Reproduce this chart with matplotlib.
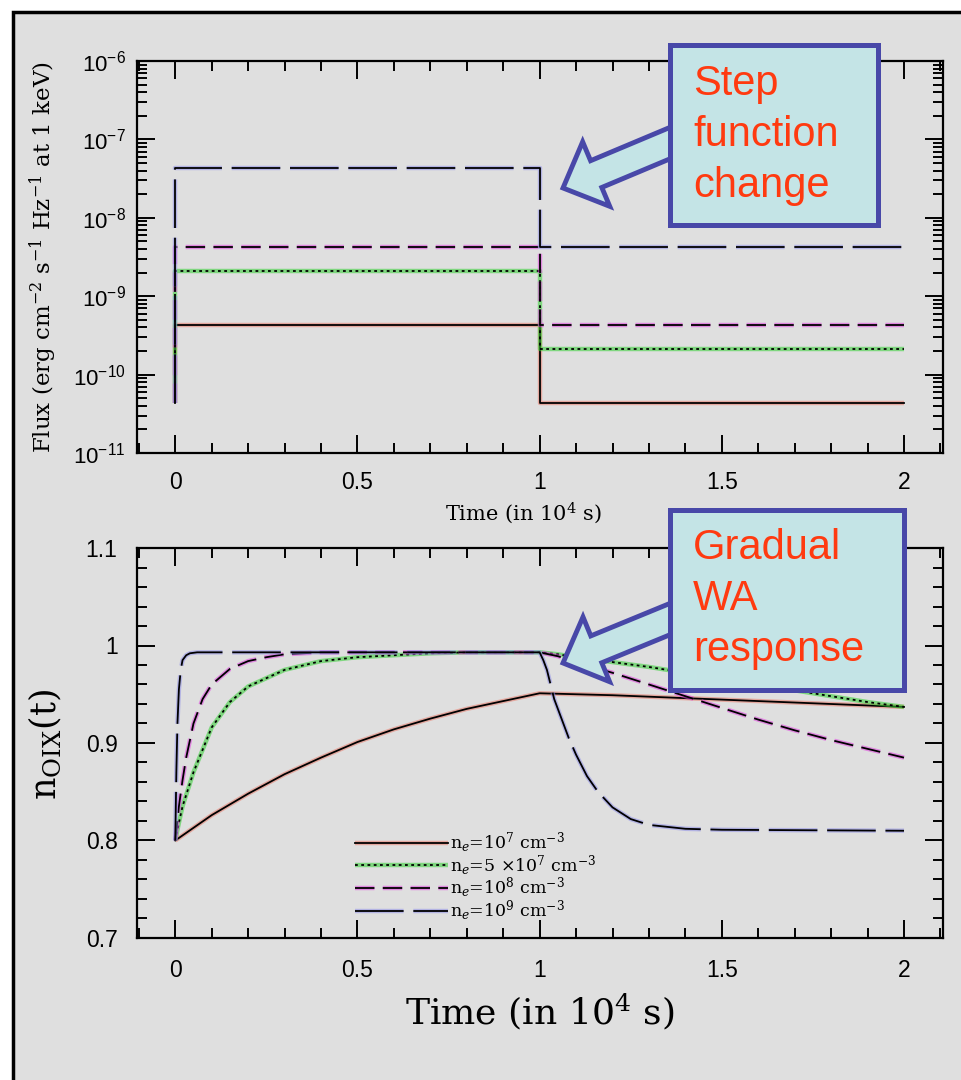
import matplotlib
matplotlib.use('Agg')
import matplotlib.pyplot as plt
from matplotlib.patches import Rectangle, FancyArrow
from matplotlib.ticker import MultipleLocator, FuncFormatter, LogLocator, NullFormatter
from matplotlib.legend_handler import HandlerTuple

plt.rcParams['font.family'] = ['Liberation Sans', 'DejaVu Sans']
plt.rcParams['mathtext.fontset'] = 'dejavuserif'
plt.rcParams['lines.scale_dashes'] = False

# --- top panel: ionizing flux, step function (t in 1e4 s)
flux_t = [0, 0, 1, 1, 2]
flux_1e7 = [4.4e-11, 4.3e-10, 4.3e-10, 4.4e-11, 4.4e-11]
flux_5e7 = [4.4e-11, 2.1e-9, 2.1e-9, 2.15e-10, 2.15e-10]
flux_1e8 = [4.4e-11, 4.3e-9, 4.3e-9, 4.3e-10, 4.3e-10]
flux_1e9 = [4.4e-11, 4.3e-8, 4.3e-8, 4.3e-9, 4.3e-9]

# --- bottom panel: n_OIX(t) response
t_1e7 = [0, 0.05, 0.1, 0.2, 0.3, 0.4, 0.5, 0.6, 0.7, 0.8, 0.9, 1.0,
         1.1, 1.2, 1.4, 1.6, 1.8, 2.0]
n_1e7 = [0.800, 0.813, 0.826, 0.848, 0.868, 0.885, 0.901, 0.914, 0.925, 0.935,
         0.943, 0.951, 0.950, 0.949, 0.946, 0.943, 0.940, 0.937]

t_5e7 = [0, 0.01, 0.02, 0.05, 0.1, 0.15, 0.2, 0.3, 0.4, 0.5, 0.6, 0.7, 0.8,
         1.0, 1.05, 1.1, 1.2, 1.3, 1.4, 1.5, 1.6, 1.7, 1.8, 1.9, 2.0]
n_5e7 = [0.800, 0.818, 0.835, 0.870, 0.916, 0.942, 0.958, 0.975, 0.984, 0.988,
         0.990, 0.992, 0.993, 0.993, 0.991, 0.988, 0.983, 0.978, 0.972, 0.966,
         0.960, 0.954, 0.948, 0.942, 0.937]

t_1e8 = [0, 0.01, 0.02, 0.03, 0.05, 0.075, 0.1, 0.15, 0.2, 0.25, 0.3, 0.4, 0.5,
         1.0, 1.05, 1.1, 1.2, 1.3, 1.4, 1.5, 1.6, 1.7, 1.8, 1.9, 2.0]
n_1e8 = [0.800, 0.835, 0.862, 0.885, 0.920, 0.945, 0.960, 0.976, 0.984, 0.988,
         0.991, 0.993, 0.993, 0.993, 0.989, 0.983, 0.972, 0.960, 0.948, 0.936,
         0.924, 0.913, 0.903, 0.894, 0.885]

t_1e9 = [0, 0.003, 0.006, 0.01, 0.015, 0.02, 0.03, 0.04, 0.06, 1.0, 1.01, 1.02,
         1.04, 1.06, 1.08, 1.1, 1.13, 1.16, 1.2, 1.25, 1.3, 1.4, 1.5, 2.0]
n_1e9 = [0.800, 0.870, 0.920, 0.955, 0.975, 0.985, 0.990, 0.992, 0.993, 0.993,
         0.985, 0.975, 0.945, 0.925, 0.905, 0.888, 0.866, 0.850, 0.834, 0.822,
         0.816, 0.812, 0.811, 0.810]

labels = [r'n$_e$=10$^7$ cm$^{-3}$', r'n$_e$=5 $\times$10$^7$ cm$^{-3}$',
          r'n$_e$=10$^8$ cm$^{-3}$', r'n$_e$=10$^9$ cm$^{-3}$']

# underlay colour, dash pattern of the black line
DOT = (0, (2, 2.5))
styles = [
    ('#e87a6a', '-'),
    ('#30d030', DOT),
    ('#e040e0', (0, (14, 6))),
    ('#9090e8', (0, (35, 7))),
]

W, H = 961, 1080
fig = plt.figure(figsize=(W / 100, H / 100), dpi=100, facecolor='white')

# grey slide background with black left/top border
fig.add_artist(Rectangle((13 / W, -0.05), 1.2, 1.05 - 12 / H, transform=fig.transFigure,
                         fc='#dfdfdf', ec='black', lw=2.5, zorder=-5))

ax1 = fig.add_axes([137 / W, 1 - 453 / H, 806 / W, 392 / H])
ax2 = fig.add_axes([137 / W, 1 - 938 / H, 806 / W, 390 / H])


def draw(ax, x, y, col, ls, lw=1.3):
    under, = ax.plot(x, y, color=col, lw=3.2, alpha=0.55, ls='-' if ls == DOT else ls,
                     solid_capstyle='butt')
    top, = ax.plot(x, y, color='black', lw=lw, ls=ls)
    return (under, top)


for (col, ls), f in zip(styles, [flux_1e7, flux_5e7, flux_1e8, flux_1e9]):
    draw(ax1, flux_t, f, col, ls)

handles = []
for (col, ls), tt, nn in zip(styles, [t_1e7, t_5e7, t_1e8, t_1e9],
                             [n_1e7, n_5e7, n_1e8, n_1e9]):
    handles.append(draw(ax2, tt, nn, col, ls))

fmt = FuncFormatter(lambda v, p: '%g' % v)
for ax in (ax1, ax2):
    ax.set_facecolor('none')
    ax.set_xlim(-0.105, 2.107)
    ax.xaxis.set_major_locator(MultipleLocator(0.5))
    ax.xaxis.set_minor_locator(MultipleLocator(0.1))
    ax.xaxis.set_major_formatter(fmt)
    ax.tick_params(which='both', direction='in', top=True, right=True, width=1.4,
                   labelsize=16.5)
    ax.tick_params(which='major', length=13)
    ax.tick_params(which='minor', length=7)
    for s in ax.spines.values():
        s.set_linewidth(1.6)

ax1.set_yscale('log')
ax1.set_ylim(1e-11, 1e-6)
ax1.yaxis.set_major_locator(LogLocator(base=10, numticks=10))
ax1.yaxis.set_minor_locator(LogLocator(base=10, subs=range(2, 10), numticks=20))
ax1.yaxis.set_minor_formatter(NullFormatter())
ax1.tick_params(axis='x', pad=13)
ax1.tick_params(axis='y', pad=8, labelsize=16)

ax2.set_ylim(0.7, 1.1)
ax2.yaxis.set_major_locator(MultipleLocator(0.1))
ax2.yaxis.set_minor_locator(MultipleLocator(0.02))
ax2.yaxis.set_major_formatter(fmt)
ax2.tick_params(axis='x', pad=15)
ax2.tick_params(axis='y', pad=14)

fig.text(523 / W, 1 - 513 / H, r'Time (in 10$^4$ s)', ha='center', va='center',
         family='DejaVu Serif', fontsize=15)
fig.text(43 / W, 1 - 257 / H, r'Flux (erg cm$^{-2}$ s$^{-1}$ Hz$^{-1}$ at 1 keV)',
         rotation=90, ha='center', va='center', family='DejaVu Serif', fontsize=16.5)
fig.text(540 / W, 1 - 1012 / H, r'Time (in 10$^4$ s)', ha='center', va='center',
         family='DejaVu Serif', fontsize=26)
fig.text(45 / W, 1 - 745 / H, r'n$_{\rm OIX}$(t)', rotation=90, ha='center', va='center',
         family='DejaVu Serif', fontsize=25)

ax2.legend(handles, labels, handler_map={tuple: HandlerTuple(ndivide=1)},
           loc='upper left', bbox_to_anchor=(0.27, 0.275), frameon=False,
           handlelength=5.4, handletextpad=0.1, labelspacing=-0.12, borderpad=0,
           borderaxespad=0, prop={'family': 'DejaVu Serif', 'size': 12.5})

# callout boxes with block arrows (pixel geometry in inches)
box_fc, box_ec, txt_c = '#c4e4e6', '#4848a8', '#ff3a10'
inch = fig.dpi_scale_trans
for (bx0, by0, bx1, by1), (tail_y, tip), text, tx, ty in [
        ((670, 45, 878, 225), (141, (563, 188)), 'Step\nfunction\nchange', 693, 64),
        ((670, 510, 904, 690), (617, (563, 663)), 'Gradual\nWA\nresponse', 693, 528)]:
    x0, y0 = 675 / 100, (H - tail_y) / 100
    fig.add_artist(FancyArrow(x0, y0, tip[0] / 100 - x0, (H - tip[1]) / 100 - y0,
                              width=0.29, head_width=0.70, head_length=0.36,
                              length_includes_head=True, transform=inch,
                              fc=box_fc, ec=box_ec, lw=3.5, zorder=4, joinstyle='miter'))
    fig.add_artist(Rectangle((bx0 / 100, (H - by1) / 100), (bx1 - bx0) / 100, (by1 - by0) / 100,
                             transform=inch, fc=box_fc, ec=box_ec, lw=3.6, zorder=5))
    fig.text(tx / W, 1 - ty / H, text, ha='left', va='top', color=txt_c,
             family='Liberation Sans', fontsize=30, linespacing=1.35, zorder=6)

fig.savefig('out.png', dpi=100, facecolor=fig.get_facecolor())
